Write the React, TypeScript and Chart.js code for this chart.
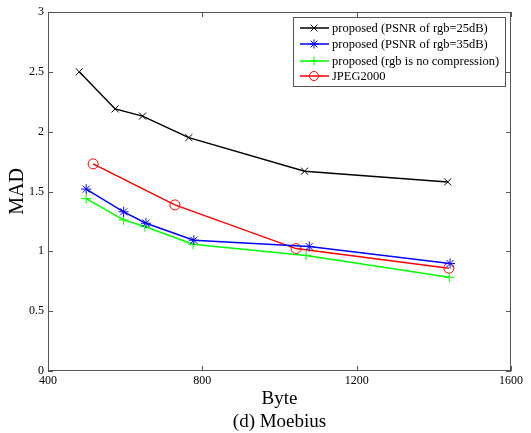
import React, { useEffect, useRef } from "react";
import { Chart, registerables } from "chart.js";

Chart.register(...registerables);

const seriesNames = [
  "proposed (PSNR of rgb=25dB)",
  "proposed (PSNR of rgb=35dB)",
  "proposed (rgb is no compression)",
  "JPEG2000",
];
const xBlack = [481, 574, 645, 765, 1065, 1436];
const yBlack = [2.5, 2.19, 2.13, 1.95, 1.67, 1.58];
const xBlue = [499, 596, 654, 778, 1077, 1442];
const yBlue = [1.52, 1.33, 1.235, 1.093, 1.04, 0.898];
const xGreen = [499, 596, 651, 776, 1069, 1440];
const yGreen = [1.44, 1.263, 1.207, 1.059, 0.965, 0.783];
const xRed = [517, 729, 1043, 1439];
const yRed = [1.731, 1.388, 1.023, 0.859];
const colors = ["#000000", "#0000ff", "#00ff00", "#ff0000"];
const markers = ["crossRot", "star", "cross", "circle"];
const xTicks = [400, 800, 1200, 1600];
const yTicks = [0, 0.5, 1, 1.5, 2, 2.5, 3];

const FONT = '"Liberation Serif", "Times New Roman", serif';

function drawMarker(ctx: CanvasRenderingContext2D, style: string, x: number, y: number, r: number) {
  ctx.beginPath();
  if (style === "circle") {
    ctx.arc(x, y, r, 0, Math.PI * 2);
  } else if (style === "cross") {
    ctx.moveTo(x - r, y); ctx.lineTo(x + r, y);
    ctx.moveTo(x, y - r); ctx.lineTo(x, y + r);
  } else if (style === "crossRot") {
    const d = r * 0.75;
    ctx.moveTo(x - d, y - d); ctx.lineTo(x + d, y + d);
    ctx.moveTo(x - d, y + d); ctx.lineTo(x + d, y - d);
  } else if (style === "star") {
    const d = r * 0.75;
    ctx.moveTo(x - r, y); ctx.lineTo(x + r, y);
    ctx.moveTo(x, y - r); ctx.lineTo(x, y + r);
    ctx.moveTo(x - d, y - d); ctx.lineTo(x + d, y + d);
    ctx.moveTo(x - d, y + d); ctx.lineTo(x + d, y - d);
  }
  ctx.stroke();
}

const framePlugin = {
  id: "matlabFrame",
  afterDatasetsDraw(chart: any) {
    const { ctx, chartArea: a, scales } = chart;
    ctx.save();
    ctx.strokeStyle = "#555555";
    ctx.lineWidth = 1;
    ctx.strokeRect(a.left + 0.5, a.top + 0.5, a.right - a.left - 1, a.bottom - a.top - 1);
    const tl = 5;
    ctx.beginPath();
    xTicks.forEach((v) => {
      const px = Math.round(scales.x.getPixelForValue(v)) + 0.5;
      ctx.moveTo(px, a.bottom); ctx.lineTo(px, a.bottom - tl);
      ctx.moveTo(px, a.top); ctx.lineTo(px, a.top + tl);
    });
    yTicks.forEach((v) => {
      const py = Math.round(scales.y.getPixelForValue(v)) + 0.5;
      ctx.moveTo(a.left, py); ctx.lineTo(a.left + tl, py);
      ctx.moveTo(a.right, py); ctx.lineTo(a.right - tl, py);
    });
    ctx.stroke();

    // legend box
    const bx = 293, by = 17, bw = 212, bh = 69;
    ctx.fillStyle = "#ffffff";
    ctx.fillRect(bx, by, bw, bh);
    ctx.strokeStyle = "#555555";
    ctx.strokeRect(bx + 0.5, by + 0.5, bw, bh);
    const rows = [28, 44, 61, 76];
    ctx.font = "12.5px " + FONT;
    ctx.textBaseline = "middle";
    ctx.textAlign = "left";
    seriesNames.forEach((name, i) => {
      const y = rows[i];
      ctx.strokeStyle = colors[i];
      ctx.lineWidth = 1.5;
      ctx.beginPath();
      ctx.moveTo(300, y); ctx.lineTo(329, y);
      ctx.stroke();
      ctx.lineWidth = 1;
      drawMarker(ctx, markers[i], 314, y, 4.5);
      ctx.fillStyle = "#000000";
      ctx.fillText(name, 332, y + 1);
    });
    ctx.restore();
  },
};

function makeData(xs: number[], ys: number[]) {
  return xs.map((x, i) => ({ x, y: ys[i] }));
}

export default function App() {
  const ref = useRef<HTMLCanvasElement>(null);
  useEffect(() => {
    document.body.style.margin = "0";
    const xsAll = [xBlack, xBlue, xGreen, xRed];
    const ysAll = [yBlack, yBlue, yGreen, yRed];
    const chart = new Chart(ref.current as HTMLCanvasElement, {
      type: "line",
      data: {
        datasets: seriesNames.map((name, i) => ({
          label: name,
          data: makeData(xsAll[i], ysAll[i]),
          borderColor: colors[i],
          backgroundColor: colors[i],
          borderWidth: 1.5,
          pointStyle: markers[i] as any,
          pointRadius: 5,
          pointBorderWidth: 1,
          pointBackgroundColor: markers[i] === "circle" ? "rgba(0,0,0,0)" : colors[i],
          pointBorderColor: colors[i],
          fill: false,
          tension: 0,
        })),
      },
      options: {
        animation: false,
        responsive: false,
        maintainAspectRatio: false,
        layout: { padding: { top: 12, right: 20, left: 0, bottom: 0 } },
        plugins: { legend: { display: false }, tooltip: { enabled: false } },
        scales: {
          x: {
            type: "linear",
            min: 400,
            max: 1600,
            afterBuildTicks: (s: any) => { s.ticks = xTicks.map((v) => ({ value: v })); },
            afterFit: (s: any) => { s.height = 62; },
            grid: { display: false, drawTicks: false },
            border: { display: false },
            ticks: { color: "#000", font: { family: FONT, size: 12 }, padding: 3, maxRotation: 0, callback: (v: any) => String(v) },
            title: { display: true, text: ["Byte", "(d) Moebius"], color: "#000", font: { family: FONT, size: 19, lineHeight: 1.2 }, padding: { top: 4, bottom: 0 } },
          },
          y: {
            type: "linear",
            min: 0,
            max: 3,
            afterBuildTicks: (s: any) => { s.ticks = yTicks.map((v) => ({ value: v })); },
            afterFit: (s: any) => { s.width = 48; },
            grid: { display: false, drawTicks: false },
            border: { display: false },
            ticks: { color: "#000", font: { family: FONT, size: 12 }, padding: 4, callback: (v: any) => String(v) },
            title: { display: true, text: "MAD", color: "#000", font: { family: FONT, size: 20 }, padding: { top: 6, bottom: 0 } },
          },
        },
      },
      plugins: [framePlugin],
    });
    return () => chart.destroy();
  }, []);
  return <canvas ref={ref} width={531} height={433} style={{ display: "block" }} />;
}
